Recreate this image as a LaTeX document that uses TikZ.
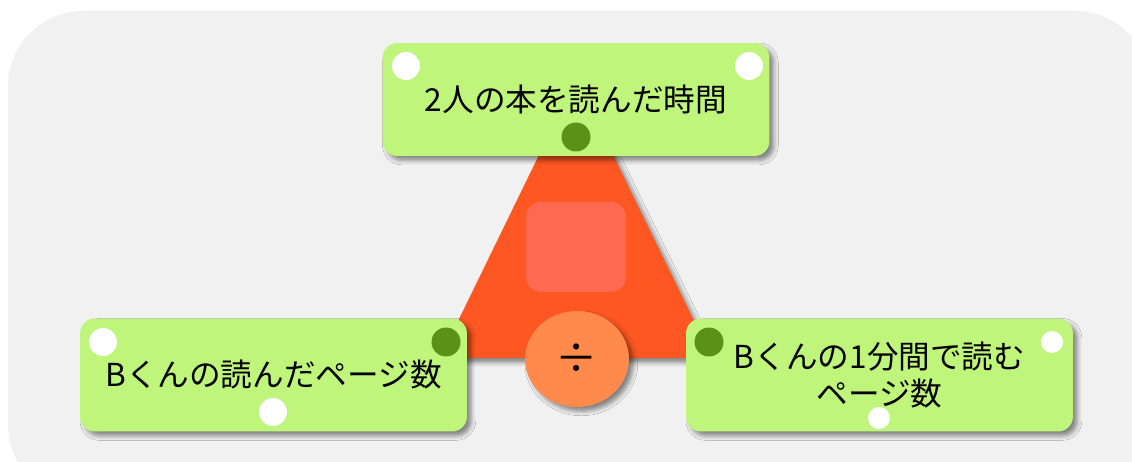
\documentclass[tikz,border=0pt]{standalone}
\usepackage{fontspec}
\newfontfamily\jp{Noto Sans CJK JP}
\usetikzlibrary{shadows.blur,shapes.geometric}
\definecolor{bgc}{HTML}{F1F1F1}
\definecolor{boxg}{HTML}{C0F57B}
\definecolor{dkg}{HTML}{5A9216}
\definecolor{tri}{HTML}{FF5722}
\definecolor{sq}{HTML}{FF6951}
\definecolor{circ}{HTML}{FF8A4C}
\tikzset{
  shad/.style={blur shadow={shadow xshift=2.5pt, shadow yshift=-2.5pt, shadow blur radius=2.5pt, shadow opacity=45}},
  greenbox/.style={rectangle, rounded corners=0.3cm, fill=boxg, minimum width=7.74cm, minimum height=2.26cm, inner sep=0pt, align=center, shad, font=\jp\fontsize{18}{21.5}\selectfont},
  wdot/.style={circle, fill=white, inner sep=0pt, minimum size=0.56cm},
  swdot/.style={circle, fill=white, inner sep=0pt, minimum size=0.44cm},
  gdot/.style={circle, fill=dkg, inner sep=0pt, minimum size=0.58cm},
}
\begin{document}
\begin{tikzpicture}[x=0.02cm,y=-0.02cm]
\useasboundingbox (0,0) rectangle (1132,462);
\begin{scope}
\clip (0,0) rectangle (1132,462);
\fill[bgc, rounded corners=1.5cm] (8,11) rectangle (1150,500);
\end{scope}
% triangle
\coordinate (apex) at (576,79);
\coordinate (bl) at (440,358);
\coordinate (br) at (712,358);
\fill[tri, shad] (apex) -- (br) -- (bl) -- cycle;
\node[rectangle, rounded corners=0.3cm, fill=sq, minimum width=2cm, minimum height=1.8cm, inner sep=0pt] (sqr) at (576,247) {};
% boxes
\node[greenbox] (top) at (576,99.5) {2人の本を読んだ時間};
\node[greenbox] (left) at (273.5,375) {\raisebox{-3pt}{Bくんの読んだページ数}};
\node[greenbox] (right) at (879.5,375) {Bくんの1分間で読む\\ページ数};
% dots
\node[wdot] (t1) at (406,66) {};
\node[wdot] (t2) at (749,66) {};
\node[gdot] (t3) at (576,137) {};
\node[wdot] (l1) at (103,342) {};
\node[gdot] (l2) at (446,342) {};
\node[wdot] (l3) at (273,412) {};
\node[gdot] (r1) at (709,342) {};
\node[swdot] (r2) at (1052,342) {};
\node[swdot] (r3) at (879,418) {};
% divide circle
\node[ellipse, fill=circ, minimum width=2.08cm, minimum height=1.92cm, inner sep=0pt, shad, font=\jp\fontsize{24}{24}\selectfont] (div) at (577,359) {÷};
\end{tikzpicture}
\end{document}
